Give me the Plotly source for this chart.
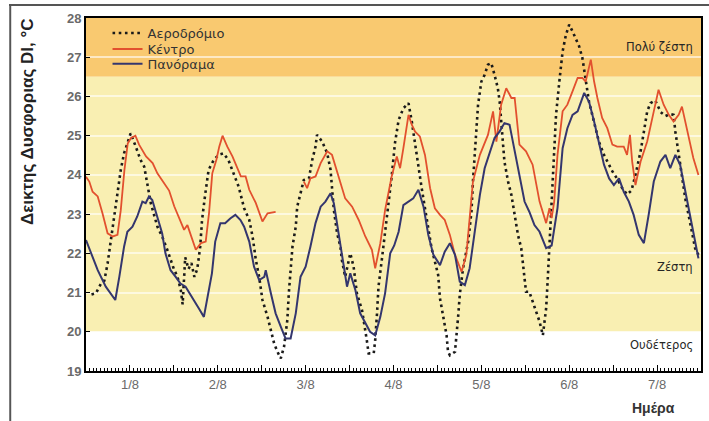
import plotly.graph_objects as go

# ---------------- data (hours since 1/8 00:00, DI in °C) ----------------
day_labels = ["1/8", "2/8", "3/8", "4/8", "5/8", "6/8", "7/8"]

kentro_h = [0, 0.9, 1.8, 3.2, 4.5, 5.9, 7.3, 8.6, 9.5, 10.5, 11.4, 12.3, 13.5, 14.5, 16.4, 18.2,
            19.5, 21.4, 22.7, 24.1, 25.9, 26.8, 27.7, 29.1, 30, 31.4, 32.7, 33.6, 34.5, 35.6, 36.4,
            37.3, 38.6, 40, 41.4, 42.3, 43.6, 44.6, 46.4, 48.2, 49.6, 51.8, 55,
            59.5, 60.4, 61.3, 62.7, 64.1, 65.9, 67.2, 69, 70.8, 72.7, 74.5, 76.3, 78.1, 79, 80.4,
            81.7, 83.5, 84.9, 85.8, 86.7, 88.1, 89, 89.9, 91.2, 92.6, 94, 95.3, 96.7, 98, 99.4,
            100.8, 102.6, 103.9, 105.7, 107.6, 109.8, 111.2, 112.1, 113.4, 114.8, 116.2, 117.1,
            118.4, 120.2, 122, 123.9, 125.7, 126.6, 127.2, 127.9, 128.8, 130.2, 131.5, 132.9,
            134.3, 135.6, 136.5, 137.9, 138.8, 139.7, 141, 142.4, 143.8, 145.1, 146.9, 147.8,
            148.6, 149.2, 150.1, 151.5, 153.3, 155.1, 156.4, 157.8, 159.2, 160.5, 161.9, 162.8,
            164.1, 165.9, 167.3]
kentro_v = [23.95, 23.83, 23.57, 23.45, 23.02, 22.51, 22.43, 22.47, 23.1, 24.13, 24.8, 24.94, 25.0,
            24.77, 24.47, 24.3, 24.04, 23.79, 23.6, 23.2, 22.77, 22.6, 22.72, 22.34, 22.09, 22.26,
            22.3, 23.02, 24.04, 24.38, 24.72, 25.0, 24.72, 24.47, 24.13, 23.96, 23.96, 23.62,
            23.28, 22.81, 23.02, 23.06, None,
            23.83, 23.66, 23.91, 23.96, 24.3, 24.6, 24.51, 23.96, 23.4, 23.19, 22.85, 22.43,
            22.09, 21.62, 22.26, 23.1, 23.96, 24.47, 24.17, 24.68, 25.53, 25.28, 25.1, 24.98,
            24.51, 23.66, 23.15, 22.98, 22.85, 22.47, 21.96, 21.53, 21.96, 23.83, 24.51, 25.02,
            25.62, 24.85, 25.79, 26.21, 25.96, 25.96, 24.77, 24.6, 24.26, 23.32, 22.77, 23.15,
            22.9, 23.32, 24.51, 25.62, 25.79, 26.13, 26.47, 26.47, 26.38, 26.94, 26.38, 25.96,
            25.45, 25.19, 24.77, 24.72, 24.72, 24.51, 25.02, 24.34, 23.74, 24.34, 24.85, 25.62,
            26.17, 25.79, 25.53, 25.36, 25.53, 25.74, 25.19, 24.43, 24.0]

panorama_h = [0, 1.4, 3.2, 5.4, 8, 9.1, 10.4, 11.3, 12.7, 14, 15.4, 16.3, 17.2, 18.1, 19.5, 20.8,
              21.7, 23.1, 24.5, 25.8, 27.2, 29, 30.8, 32.2, 33.5, 34.4, 35.3, 36.7, 38, 39.4,
              40.8, 42.2, 43.2, 44.6, 45.9, 47.3, 48.7, 49.1, 50.5, 51.8, 53.2, 54.5, 55.9, 57.3,
              58.6, 60, 61.3, 62.7, 64.1, 65.4, 66.8, 67.7, 69, 70, 71.3, 72.2, 73.6, 74.9, 76.3,
              77.6, 79, 80.4, 81.7, 83.1, 84.2, 85.4, 86.7, 88.1, 89.4, 90.8, 92.2, 93.5, 94.9,
              96.7, 98, 99.4, 100.8, 102.1, 103.5, 104.8, 106.2, 107.6, 108.9, 110.3, 111.6, 113,
              114.3, 115.7, 117.1, 118.4, 119.8, 121.1, 122.5, 123.9, 125.7, 127.2, 128.8, 130.2,
              131.5, 132.9, 134.3, 136.1, 137.4, 138.8, 140.1, 141.5, 142.9, 144.2, 145.6, 146.9,
              148.3, 149.6, 151, 152.4, 153.7, 155.1, 156.9, 158.3, 159.6, 161, 162.3, 164.1,
              165.9, 167.3]
panorama_v = [22.34, 22.0, 21.57, 21.15, 20.81, 21.4, 22.17, 22.55, 22.68, 22.94, 23.32, 23.28,
              23.45, 23.36, 22.94, 22.51, 22.0, 21.57, 21.4, 21.23, 21.15, 20.89, 20.6, 20.38,
              21.06, 21.49, 22.3, 22.77, 22.77, 22.89, 22.98, 22.85, 22.68, 22.3, 21.66, 21.32,
              21.4, 21.57, 20.98, 20.47, 20.13, 19.83, 19.83, 20.47, 21.4, 21.66, 22.17, 22.77,
              23.19, 23.32, 23.53, 23.28, 22.51, 21.91, 21.15, 21.49, 21.06, 20.47, 20.21, 20.0,
              19.91, 20.38, 20.98, 22.0, 22.2, 22.55, 23.23, 23.32, 23.4, 23.62, 23.19, 22.47,
              21.96, 21.7, 22.04, 22.26, 21.96, 21.28, 21.19, 21.62, 22.55, 23.49, 24.17, 24.6,
              24.94, 25.11, 25.32, 25.28, 24.6, 23.91, 23.32, 23.06, 22.72, 22.55, 22.13, 22.2,
              23.15, 24.68, 25.19, 25.53, 25.62, 26.09, 25.87, 25.36, 24.85, 24.26, 23.91, 23.74,
              23.91, 23.57, 23.32, 22.98, 22.47, 22.26, 22.98, 23.83, 24.34, 24.51, 24.17, 24.51,
              24.26, 23.4, 22.47, 21.87]

aerodromio_h = [1.5, 2.7, 4.1, 5, 5.9, 6.8, 7.7, 8.6, 9.5, 10.4, 11.3, 12.2, 13.6, 14.9, 15.9,
                16.8, 17.7, 19.5, 20.8, 22.2, 23.1, 24, 25, 25.9, 26.4, 27.1, 28, 28.8, 29.6,
                30.4, 31.2, 31.7, 32.6, 33.5, 34.9, 36.2, 37.6, 38.9, 40.3, 41.7, 43.2, 44.6,
                45.5, 46.4, 47.3, 48.2, 49.6, 50.5, 51.4, 52.3, 53.2, 54.1, 55, 55.4, 55.9, 56.4,
                57.3, 57.7, 58.6, 59.5, 60.9, 61.8, 62.7, 63.1, 64.5, 65.9, 66.8, 67.2, 67.7,
                68.6, 69.5, 69.9, 70.8, 72.2, 73.1, 74, 75.4, 76.7, 77.2, 78.6, 79, 79.5, 79.9,
                80.8, 81.7, 82.6, 83.5, 84.4, 85.4, 86.7, 88.1, 89, 89.9, 90.8, 91.7, 92.6, 93.5,
                94.4, 95.3, 96.2, 96.7, 97.6, 98.5, 98.9, 99.4, 100.8, 101.2, 101.7, 102.1, 103,
                104.4, 105.3, 105.7, 106.2, 106.6, 107.1, 108, 108.9, 109.8, 110.7, 111.6, 112.5,
                113, 113.4, 113.9, 114.3, 115.3, 116.2, 117.1, 118, 118.9, 119.3, 119.8, 120.2,
                121.1, 122, 122.9, 123.9, 124.8, 125.7, 126.1, 126.6, 127.3, 127.8, 128.4, 129.3,
                130.2, 131.1, 132, 132.9, 133.8, 134.7, 135.6, 136.5, 137.4, 138.3, 139.2, 140.1,
                141.5, 142.9, 143.8, 145.1, 146.5, 147.8, 149, 150.1, 151.5, 152.4, 153.3, 154.2,
                155.5, 157, 158.3, 159.6, 160.5, 161, 161.9, 162.8, 163.7, 164.6, 165.5, 166.4,
                167.3]
aerodromio_v = [20.95, 20.98, 21.23, 21.3, 21.74, 22.34, 23.02, 23.53, 24.13, 24.55, 24.8, 25.06,
                24.72, 24.38, 24.21, 23.7, 23.28, 22.68, 22.43, 22.09, 21.83, 21.6, 21.4, 21.06,
                20.7, 21.9, 21.6, 21.75, 21.4, 21.6, 22.17, 22.85, 23.53, 24.13, 24.38, 24.51,
                24.55, 24.38, 24.04, 23.7, 23.15, 22.85, 22.43, 21.83, 21.4, 20.81, 20.38, 20.04,
                19.7, 19.49, 19.32, 19.62, 20.3, 20.98, 21.66, 22.17, 22.68, 23.19, 23.53, 23.87,
                23.91, 24.38, 24.72, 25.02, 24.85, 24.55, 24.13, 23.62, 23.11, 22.51, 22.17, 21.83,
                21.4, 22.0, 21.66, 20.98, 20.55, 19.79, 19.45, 19.45, 19.79, 20.47, 21.15, 21.83,
                22.51, 23.28, 23.96, 24.81, 25.4, 25.7, 25.83, 25.36, 24.77, 24.26, 23.66, 23.15,
                22.64, 22.13, 21.79, 21.45, 20.85, 20.34, 19.91, 19.49, 19.4, 19.49, 19.83, 20.43,
                20.94, 21.62, 22.3, 23.06, 23.83, 24.51, 25.19, 25.79, 26.38, 26.55, 26.81, 26.85,
                26.55, 26.21, 25.87, 25.36, 24.68, 24.34, 23.83, 23.49, 22.98, 22.47, 22.13, 21.79,
                21.36, 21.02, 21.02, 20.77, 20.51, 20.26, 19.91, 20.6, 21.28, 22.13, 23.32, 24.26,
                25.53, 26.38, 27.15, 27.57, 27.83, 27.66, 27.49, 27.28, 26.98, 26.38, 25.87, 25.53,
                25.19, 24.85, 24.51, 24.26, 24.09, 23.9, 23.66, 23.5, 23.6, 24.0, 24.6, 25.1,
                25.62, 25.83, 25.9, 25.6, 25.5, 25.55, 25.53, 25.1, 24.51, 23.91, 23.4, 22.98,
                22.55, 22.13, 21.96]

zone_labels = ["Πολύ ζέστη", "Ζέστη", "Ουδέτερος"]
zone_label_y = [27.27, 21.65, 19.66]
zone_bounds = [(26.5, 28), (20, 26.5), (19, 20)]
zone_colors = ["#F9C970", "#F9EFB2", "#FFFFFF"]

# ---------------- figure ----------------
fig = go.Figure()

fig.add_trace(go.Scatter(x=aerodromio_h, y=aerodromio_v, mode="lines", name="Αεροδρόμιο",
                         line=dict(color="#1a1a1a", width=2.6, dash="2.6px,3.6px"),
                         legend="legend"))
fig.add_trace(go.Scatter(x=kentro_h, y=kentro_v, mode="lines", name="Κέντρο",
                         line=dict(color="#E2502E", width=1.8), connectgaps=False,
                         legend="legend2"))
fig.add_trace(go.Scatter(x=panorama_h, y=panorama_v, mode="lines", name="Πανόραμα",
                         line=dict(color="#34366E", width=2), legend="legend3"))

shapes = []
for (y0, y1), c in zip(zone_bounds, zone_colors):
    shapes.append(dict(type="rect", xref="paper", yref="y", x0=0, x1=1, y0=y0, y1=y1,
                       fillcolor=c, line=dict(width=0), layer="below"))
# outer document frame (left edge)
shapes.append(dict(type="rect", xref="paper", yref="paper", x0=-0.1248, x1=-0.1216,
                   y0=-0.15, y1=1.0395, fillcolor="#555555", line=dict(width=0), layer="above"))

annotations = []
# outer document frame (top edge) as a thin filled box
annotations.append(dict(text="", xref="paper", yref="paper", x=-0.1248, y=1.0365,
                        xanchor="left", yanchor="middle", showarrow=False,
                        width=705, height=2, bgcolor="#555555", borderpad=0, borderwidth=0,
                        font=dict(size=1)))
for t, yv in zip(zone_labels, zone_label_y):
    annotations.append(dict(text=t, xref="paper", yref="y", x=0.99, y=yv, xanchor="right",
                            yanchor="middle", showarrow=False,
                            font=dict(family="DejaVu Sans", size=11.5, color="#262626")))
annotations.append(dict(text="<b>Ημέρα</b>", xref="paper", yref="paper", x=0.922, y=-0.105,
                        xanchor="center", yanchor="middle", showarrow=False,
                        font=dict(family="Liberation Sans, Arial", size=14, color="#333333")))
annotations.append(dict(text="<b>Δεικτης Δυσφοριας DI, °C</b>", xref="paper", yref="paper",
                        x=-0.094, y=0.706, textangle=-90, xanchor="center", yanchor="middle",
                        showarrow=False,
                        font=dict(family="Liberation Sans, Arial", size=17, color="#222222")))

tickvals = [12 * i for i in range(15)]
ticktext = [day_labels[i // 2] if i % 2 == 1 else "" for i in range(15)]

legend_font = dict(family="DejaVu Sans", size=13, color="#333333")
def leg(yc):
    return dict(x=0.035, y=yc, xanchor="left", yanchor="middle", bgcolor="rgba(0,0,0,0)",
                font=legend_font, itemwidth=30, borderwidth=0)

fig.update_layout(
    width=709, height=421,
    margin=dict(l=86, r=6, t=18, b=50),
    paper_bgcolor="white",
    plot_bgcolor="white",
    shapes=shapes,
    annotations=annotations,
    showlegend=True,
    legend=leg(0.9575),
    legend2=leg(0.912),
    legend3=leg(0.870),
    font=dict(family="Liberation Sans, Arial"),
)

fig.update_xaxes(
    range=[0, 168], tickmode="array", tickvals=tickvals, ticktext=ticktext,
    ticks="inside", ticklen=6, tickwidth=1.3, tickcolor="black",
    minor=dict(dtick=1, tick0=0, ticks="inside", ticklen=3, tickwidth=1, tickcolor="black",
               showgrid=False),
    showgrid=False, zeroline=False,
    showline=True, linewidth=2, linecolor="black", mirror=True,
    tickfont=dict(size=13, color="#6a6a6a", family="Liberation Sans, Arial"),
)
fig.update_yaxes(
    range=[19, 28], dtick=1, tick0=19,
    ticks="inside", ticklen=4, tickwidth=1.3, tickcolor="black",
    showgrid=True, gridcolor="rgba(255,255,255,0.6)", gridwidth=1.5,
    zeroline=False,
    showline=True, linewidth=2, linecolor="black", mirror=True,
    tickfont=dict(size=13, color="#6a6a6a", family="Liberation Sans, Arial", weight="bold"),
)

fig.write_html("out.html", config={"displayModeBar": False},
               post_script="document.body.style.margin='0';")
